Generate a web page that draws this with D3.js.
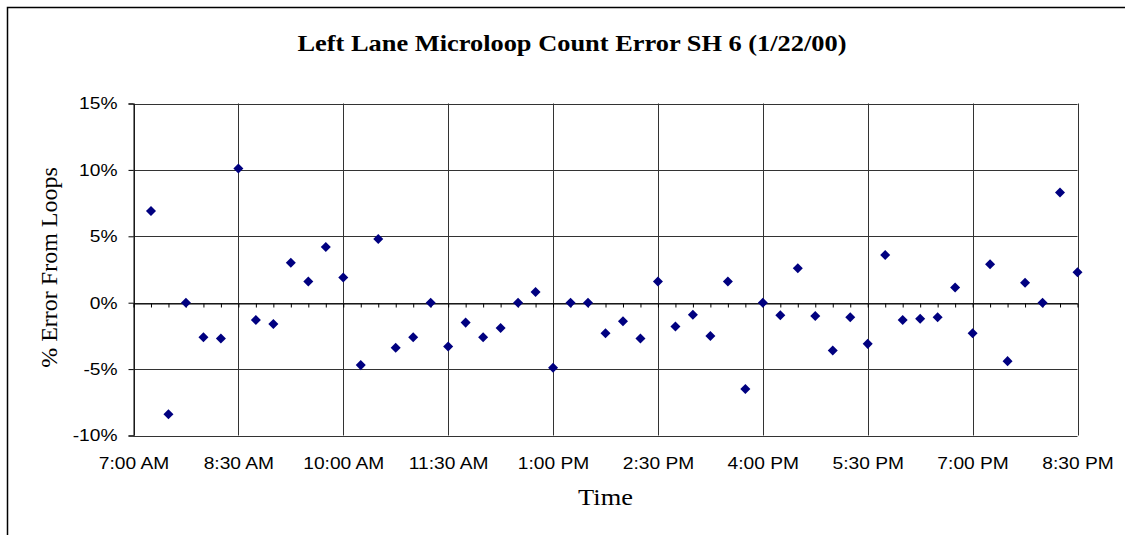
<!DOCTYPE html>
<meta charset="utf-8">
<head>
    <script src="https://d3js.org/d3.v7.min.js"></script>
    <style>
        body { margin: 0; background: #fff; }
        .tick text { font-family: "Liberation Sans", Arial, sans-serif; font-size: 17px; fill: #000; }
    </style>
</head>
<body>
<div id="chart"></div>

<script>
    // sample times (every 15 minutes) and % error values
    const times = ["7:15","7:30","7:45","8:00","8:15","8:30","8:45","9:00","9:15","9:30","9:45","10:00",
        "10:15","10:30","10:45","11:00","11:15","11:30","11:45","12:00","12:15","12:30","12:45","13:00",
        "13:15","13:30","13:45","14:00","14:15","14:30","14:45","15:00","15:15","15:30","15:45","16:00",
        "16:15","16:30","16:45","17:00","17:15","17:30","17:45","18:00","18:15","18:30","18:45","19:00",
        "19:15","19:30","19:45","20:00","20:15","20:30"]

    const errorPct = [6.9, -8.4, 0, -2.6, -2.7, 10.1, -1.3, -1.6, 3.0, 1.6, 4.2, 1.9,
        -4.7, 4.8, -3.4, -2.6, 0, -3.3, -1.5, -2.6, -1.9, 0, 0.8, -4.9,
        0, 0, -2.3, -1.4, -2.7, 1.6, -1.8, -0.9, -2.5, 1.6, -6.5, 0,
        -0.95, 2.6, -1.0, -3.6, -1.1, -3.1, 3.6, -1.3, -1.2, -1.1, 1.15, -2.3,
        2.9, -4.4, 1.5, 0, 8.3, 2.3]

    const xTickLabels = ["7:00 AM","8:30 AM","10:00 AM","11:30 AM","1:00 PM","2:30 PM","4:00 PM","5:30 PM","7:00 PM","8:30 PM"]
    const yTicks = [-0.10, -0.05, 0, 0.05, 0.10, 0.15]

    const parseTime = d3.timeParse("%H:%M")
    const parseLabel = d3.timeParse("%I:%M %p")

    const data = times.map((t, i) => ({ time: parseTime(t), value: errorPct[i] / 100 }))
    const xTicks = xTickLabels.map(parseLabel)

    // the original picture is a bit wider than tall, so text gets a small horizontal stretch
    const stretch = 1.13

    const svg = d3.select("#chart").append("svg")
        .attr("width", 1125)
        .attr("height", 535)

    // outer chart frame (only top & left visible in the window)
    svg.append("rect")
        .attr("x", 7.5).attr("y", 7.5)
        .attr("width", 1200).attr("height", 600)
        .attr("fill", "none")
        .attr("stroke", "#000")
        .attr("stroke-width", 1.5)

    const plotLeft = 133.5, plotRight = 1077.5, plotTop = 103.5, plotBottom = 435.5

    const x = d3.scaleTime()
        .domain([xTicks[0], xTicks[xTicks.length - 1]])
        .range([plotLeft, plotRight])

    const y = d3.scaleLinear()
        .domain([-0.10, 0.15])
        .range([plotBottom, plotTop])

    // gridlines
    svg.append("g").selectAll("line")
        .data(yTicks)
        .join("line")
        .attr("x1", plotLeft).attr("x2", plotRight)
        .attr("y1", d => Math.round(y(d)) + 0.5).attr("y2", d => Math.round(y(d)) + 0.5)
        .attr("stroke", "#333")

    svg.append("g").selectAll("line")
        .data(xTicks)
        .join("line")
        .attr("x1", d => Math.round(x(d)) + 0.5).attr("x2", d => Math.round(x(d)) + 0.5)
        .attr("y1", plotTop).attr("y2", plotBottom)
        .attr("stroke", "#333")

    // y axis
    const pct = d3.format(".0%")
    const leftAxis = d3.axisLeft(y)
        .tickValues(yTicks)
        .tickFormat(d => pct(d).replace("\u2212", "-"))
        .tickSize(5)
        .tickPadding(16 / stretch - 5)
    svg.append("g")
        .attr("transform", `translate(${plotLeft},0)`)
        .call(leftAxis)
        .call(g => g.select(".domain").attr("stroke", "#000"))
        .call(g => g.selectAll(".tick line").attr("stroke", "#000"))
        .call(g => g.selectAll(".tick text").attr("transform", `scale(${stretch},1)`))

    // x axis labels under the plot
    const bottomAxis = d3.axisBottom(x)
        .tickValues(xTicks)
        .tickFormat((d, i) => xTickLabels[i])
        .tickSize(0)
        .tickPadding(21)
    svg.append("g")
        .attr("transform", `translate(0,${plotBottom})`)
        .call(bottomAxis)
        .call(g => g.select(".domain").remove())
        .call(g => g.selectAll(".tick text").attr("transform", `scale(${stretch},1)`))

    // zero line with 15-minute minor ticks
    const zeroY = Math.round(y(0)) + 0.5
    const minorAxis = d3.axisBottom(x)
        .ticks(d3.timeMinute.every(15))
        .tickFormat("")
        .tickSize(4)
        .tickSizeOuter(0)
    svg.append("g")
        .attr("transform", `translate(0,${zeroY})`)
        .call(minorAxis)
        .call(g => g.select(".domain").attr("stroke", "#000"))
        .call(g => g.selectAll(".tick line").attr("stroke", "#000"))

    // points
    svg.append("g").selectAll("path")
        .data(data)
        .join("path")
        .attr("d", d3.symbol().type(d3.symbolDiamond2).size(64))
        .attr("transform", d => `translate(${x(d.time)},${y(d.value)})`)
        .attr("fill", "#000080")

    // title and axis titles
    svg.append("text")
        .attr("transform", `translate(572,51) scale(1.1,1)`)
        .attr("text-anchor", "middle")
        .style("font-family", "'Liberation Serif', 'Times New Roman', serif")
        .style("font-weight", "bold")
        .style("font-size", "24px")
        .text("Left Lane Microloop Count Error SH 6 (1/22/00)")

    svg.append("text")
        .attr("transform", `translate(${(plotLeft + plotRight) / 2},505) scale(1.1,1)`)
        .attr("text-anchor", "middle")
        .style("font-family", "'Liberation Serif', 'Times New Roman', serif")
        .style("font-size", "24px")
        .text("Time")

    svg.append("text")
        .attr("transform", `translate(57,${(plotTop + plotBottom) / 2 - 2}) rotate(-90)`)
        .attr("text-anchor", "middle")
        .style("font-family", "'Liberation Serif', 'Times New Roman', serif")
        .style("font-size", "24px")
        .text("% Error From Loops")
</script>
</body>
